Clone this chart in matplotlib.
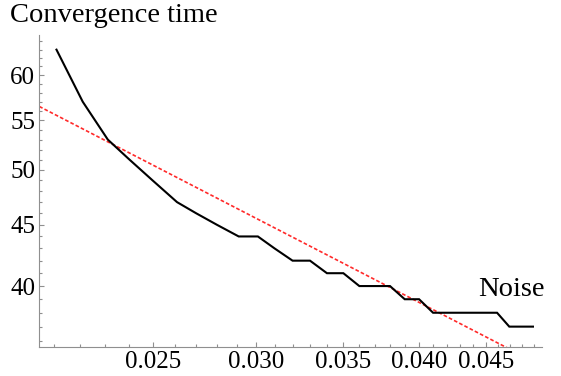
import numpy as np
import matplotlib
matplotlib.use("Agg")
import matplotlib.pyplot as plt
from matplotlib.ticker import FixedLocator, FormatStrFormatter, NullFormatter

# ---- data ----
noise = [0.0211, 0.0221, 0.0231, 0.024, 0.025, 0.0261, 0.027, 0.028, 0.0291, 0.0301,
         0.031, 0.032, 0.033, 0.034, 0.035, 0.036, 0.037, 0.038, 0.039, 0.040,
         0.041, 0.042, 0.043, 0.044, 0.045, 0.0459, 0.0469, 0.048, 0.0489]
conv_time = [63, 57, 53, 51, 49, 47, 46, 45, 44, 44,
             43, 42, 42, 41, 41, 40, 40, 40, 39, 39,
             38, 38, 38, 38, 38, 38, 37, 37, 37]
# power-law fit  T = A * noise^b
fit_prefactor = 6.35
fit_exponent = -0.562

x_major = [0.025, 0.030, 0.035, 0.040, 0.045]
x_minor = [0.021, 0.022, 0.023, 0.024, 0.026, 0.027, 0.028, 0.029,
           0.031, 0.032, 0.033, 0.034, 0.036, 0.037, 0.038, 0.039,
           0.041, 0.042, 0.043, 0.044, 0.046, 0.047, 0.048, 0.049]
y_major = [40, 45, 50, 55, 60]
y_minor = [36, 37, 38, 39, 41, 42, 43, 44, 46, 47, 48, 49, 51, 52, 53, 54,
           56, 57, 58, 59, 61, 62, 63, 64]
x_range = (0.02047, 0.04966)
y_range = (35.6, 64.8)

serif = ["Liberation Serif", "DejaVu Serif"]
axis_gray = "#8f8f8f"

fig = plt.figure(figsize=(5.61, 3.76), dpi=100)
ax = fig.add_axes([39.3 / 561, (376 - 346.7) / 376, (541.7 - 39.3) / 561, (346.7 - 35) / 376])
ax.set_xscale("log")
ax.set_yscale("log")
ax.set_xlim(*x_range)
ax.set_ylim(*y_range)

xs = np.array(x_range)
ax.plot(xs, fit_prefactor * xs ** fit_exponent, color="#ff2a2a", lw=1.2,
        linestyle=(0, (2.2, 1.3)), zorder=2)
ax.plot(noise, conv_time, color="black", lw=1.5, zorder=3, solid_joinstyle="miter")

for s in ["top", "right"]:
    ax.spines[s].set_visible(False)
for s in ["left", "bottom"]:
    ax.spines[s].set_color(axis_gray)
    ax.spines[s].set_linewidth(0.8)

ax.xaxis.set_major_locator(FixedLocator(x_major))
ax.xaxis.set_minor_locator(FixedLocator(x_minor))
ax.yaxis.set_major_locator(FixedLocator(y_major))
ax.yaxis.set_minor_locator(FixedLocator(y_minor))
ax.xaxis.set_major_formatter(FormatStrFormatter("%.3f"))
ax.yaxis.set_major_formatter(FormatStrFormatter("%d"))
ax.xaxis.set_minor_formatter(NullFormatter())
ax.yaxis.set_minor_formatter(NullFormatter())

ax.tick_params(which="both", direction="in", color=axis_gray, width=0.8)
ax.tick_params(which="major", length=3.8)
ax.tick_params(which="minor", length=2.2)
ax.tick_params(axis="x", which="major", pad=3)
ax.tick_params(axis="y", which="major", pad=3)
for lbl in ax.get_xticklabels() + ax.get_yticklabels():
    lbl.set_family(serif)
    lbl.set_fontsize(18)
    lbl.set_color("black")

fig.text(10 / 561, 1 - 22 / 376, "Convergence time", family=serif, fontsize=20.5,
         ha="left", va="baseline")
fig.text(478 / 561, 1 - 296 / 376, "Noise", family=serif, fontsize=20.5,
         ha="left", va="baseline")

fig.savefig("out.png", dpi=100)
